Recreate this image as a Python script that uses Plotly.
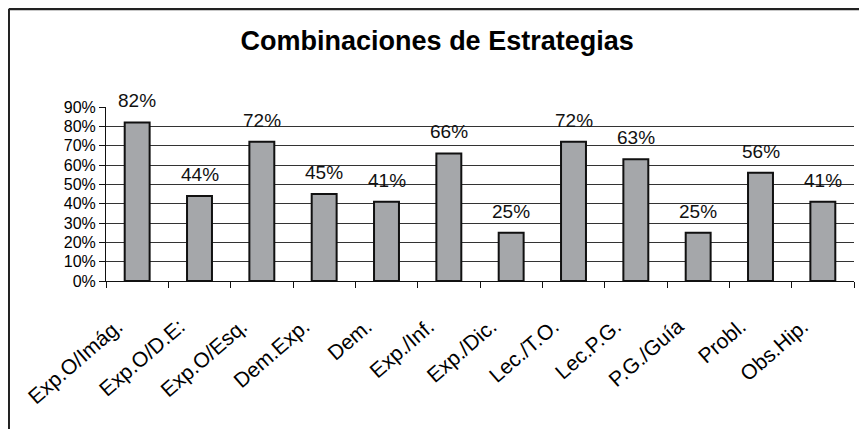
import plotly.graph_objects as go

categorias = ["Exp.O/Imág.", "Exp.O/D.E:", "Exp.O/Esq.", "Dem.Exp.", "Dem.",
              "Exp./Inf.", "Exp./Dic.", "Lec./T.O.", "Lec.P.G.", "P.G./Guía",
              "Probl.", "Obs.Hip."]
porcentajes = [82, 44, 72, 45, 41, 66, 25, 72, 63, 25, 56, 41]
ticks_y = [0, 10, 20, 30, 40, 50, 60, 70, 80, 90]
ticks_y_txt = [f"{v}%" for v in ticks_y]

FONT = "Liberation Sans, Arial, sans-serif"

fig = go.Figure()
fig.add_bar(x=categorias, y=porcentajes, width=0.4,
            marker=dict(color="#a5a7aa", line=dict(color="#111", width=2)),
            hoverinfo="x+y")

for c, v in zip(categorias, porcentajes):
    fig.add_annotation(x=c, y=v, text=f"{v}%", showarrow=False,
                       yanchor="bottom", yshift=9,
                       font=dict(family=FONT, size=19, color="#111"))

# outer frame: only the top and left edges show in the reference
fig.add_shape(type="line", xref="paper", yref="paper",
              x0=-0.1297, x1=1.05, y0=1.565, y1=1.565,
              line=dict(color="#222", width=3))
fig.add_shape(type="line", xref="paper", yref="paper",
              x0=-0.1297, x1=-0.1297, y0=1.565, y1=-1.0,
              line=dict(color="#222", width=2))

fig.update_layout(
    width=867, height=429,
    title=dict(text="<b>Combinaciones de Estrategias</b>", x=0.495, xanchor="center",
               y=0.925, yanchor="middle",
               font=dict(family=FONT, size=27, color="#000")),
    font=dict(family=FONT, color="#000"),
    paper_bgcolor="white", plot_bgcolor="white",
    margin=dict(l=98, r=21, t=99, b=156),
    showlegend=False,
)
fig.update_xaxes(type="category", tickangle=-41, tickfont=dict(size=21),
                 ticklabelstandoff=24, ticklabelshift=-20,
                 showline=True, linecolor="#111", linewidth=1,
                 ticks="outside", tickson="boundaries", ticklen=6,
                 tickcolor="#111", showgrid=False, automargin=False)
fig.update_yaxes(range=[0, 90], tickvals=ticks_y, ticktext=ticks_y_txt,
                 tickfont=dict(size=16), showline=True, linecolor="#111",
                 linewidth=1, ticks="outside", ticklen=6, tickcolor="#111",
                 showgrid=True, gridcolor="#333", gridwidth=1, zeroline=False,
                 automargin=False)

fig.write_html("out.html")
